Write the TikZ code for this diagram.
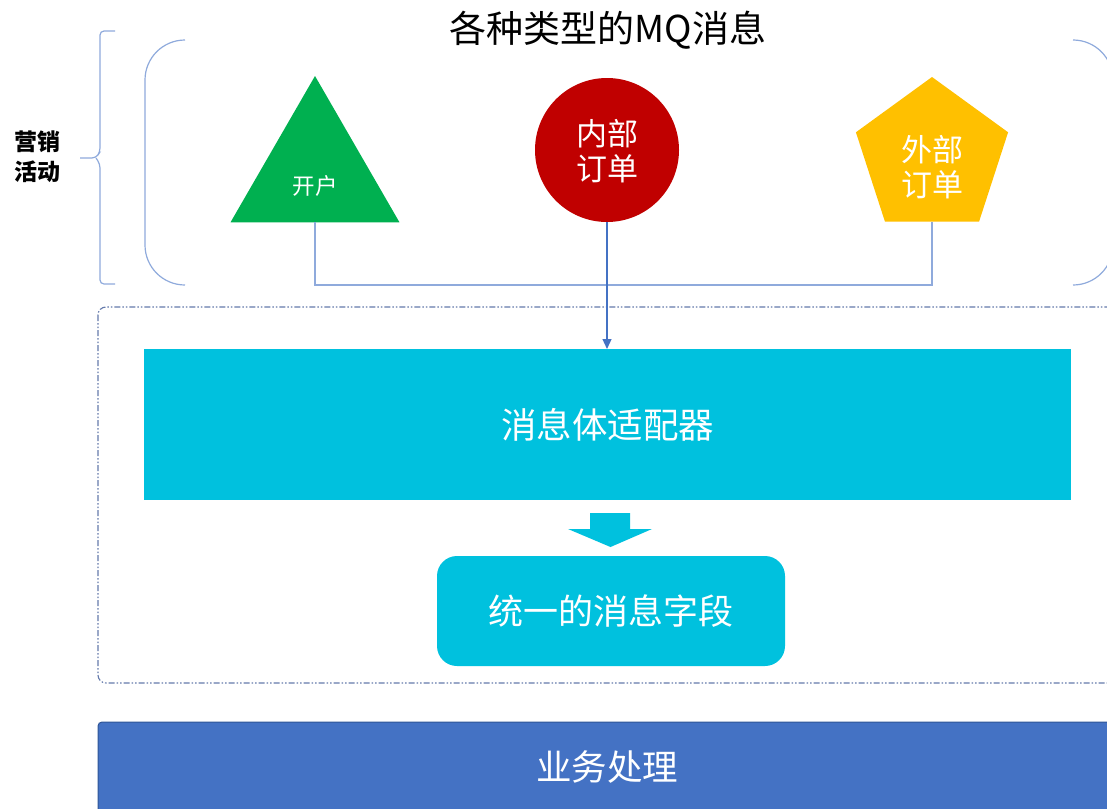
\documentclass[tikz,border=0pt]{standalone}
\usepackage{fontspec}
\setmainfont{Noto Sans CJK SC}
\usetikzlibrary{shapes.geometric,arrows.meta}
\definecolor{lineblue}{RGB}{143,170,220}
\definecolor{arrowblue}{RGB}{68,114,196}
\definecolor{msgcyan}{RGB}{0,193,222}
\definecolor{framegray}{RGB}{100,122,172}
\definecolor{bizblue}{RGB}{68,114,196}
\definecolor{bizedge}{RGB}{47,85,151}
\newcommand{\fs}[1]{\fontsize{#1}{#1}\selectfont}
\tikzset{
  shapebox/.style={inner sep=0pt,outer sep=0pt},
  inlabel/.style={text=white,align=center,inner sep=0pt},
  wire/.style={lineblue,line width=1.2pt},
}
\begin{document}
\begin{tikzpicture}[x=1pt,y=-1pt]
  \useasboundingbox (0,0) rectangle (1107,808);
  \clip (0,0) rectangle (1107,808);
  \fill[white] (0,0) rectangle (1107,808);

  % title and side label
  \node (title) at (608,30) {\fs{37}各种类型的MQ消息};
  \node[align=center,font=\fontsize{23}{30}\selectfont\bfseries] (market) at (37,157)
    {营销\\活动};

  % brace and brackets
  \draw[wire,rounded corners=4pt] (115,31) -- (100,31) -- (100,152) -- (96,158) -- (80,158);
  \draw[wire,rounded corners=4pt] (96,158) -- (100,164) -- (100,284) -- (115,284);
  \draw[wire,rounded corners=40pt] (185,40) -- (145,40) -- (145,285) -- (185,285);
  \draw[wire,rounded corners=40pt] (1073,40) -- (1113,40) -- (1113,285) -- (1073,285);

  % message types
  \node[shapebox,regular polygon,regular polygon sides=3,minimum size=195pt,
        fill={rgb,255:red,0;green,176;blue,80}] (tri) at (315,173.5) {};
  \node[inlabel] (open) at (315,186) {\fs{22.5}开户};
  \node[shapebox,circle,minimum size=144pt,
        fill={rgb,255:red,192;green,0;blue,0}] (circ) at (607,150) {};
  \node[inlabel,font=\fontsize{31}{35}\selectfont] (inner) at (607,151) {内部\\订单};
  \node[shapebox,regular polygon,regular polygon sides=5,minimum size=160pt,
        fill={rgb,255:red,255;green,192;blue,0}] (pent) at (932,157) {};
  \node[inlabel,font=\fontsize{31}{35}\selectfont] (outer) at (932,167) {外部\\订单};

  % dash-dot frame
  \draw[framegray,line width=1.1pt,rounded corners=8pt,
        dash pattern=on 6pt off 2pt on 1.5pt off 2pt on 1.5pt off 2pt]
    (98,307) rectangle (1115,683);

  \node[shapebox,fill=msgcyan,minimum width=927pt,minimum height=151pt,text=white]
    (adapter) at (607.5,424.5) {\fs{35.5}消息体适配器};
  \fill[msgcyan] (590,513) -- (630,513) -- (630,529) -- (652,529)
    -- (610.5,547) -- (568,529) -- (590,529) -- cycle;
  \node[shapebox,fill=msgcyan,rounded corners=20pt,minimum width=348pt,
        minimum height=110pt,text=white] (unify) at (611,611) {\fs{35}统一的消息字段};

  \node[shapebox,fill=bizblue,draw=bizedge,line width=1pt,rounded corners=4pt,
        minimum width=1017pt,minimum height=100pt,text=white,anchor=north west]
    (biz) at (98,722) {};
  \node[text=white] (biztext) at (607,767) {\fs{35.5}业务处理};

  % connectors
  \coordinate (bus) at (0,285);
  \draw[wire] (tri.south) -- (tri.south |- bus) -- (pent.south |- bus) -- (pent.south);
  \draw[arrowblue,line width=1.2pt,-{Triangle[length=10pt,width=9pt]}]
    (circ.south) -- (circ.south |- adapter.north);
\end{tikzpicture}
\end{document}
